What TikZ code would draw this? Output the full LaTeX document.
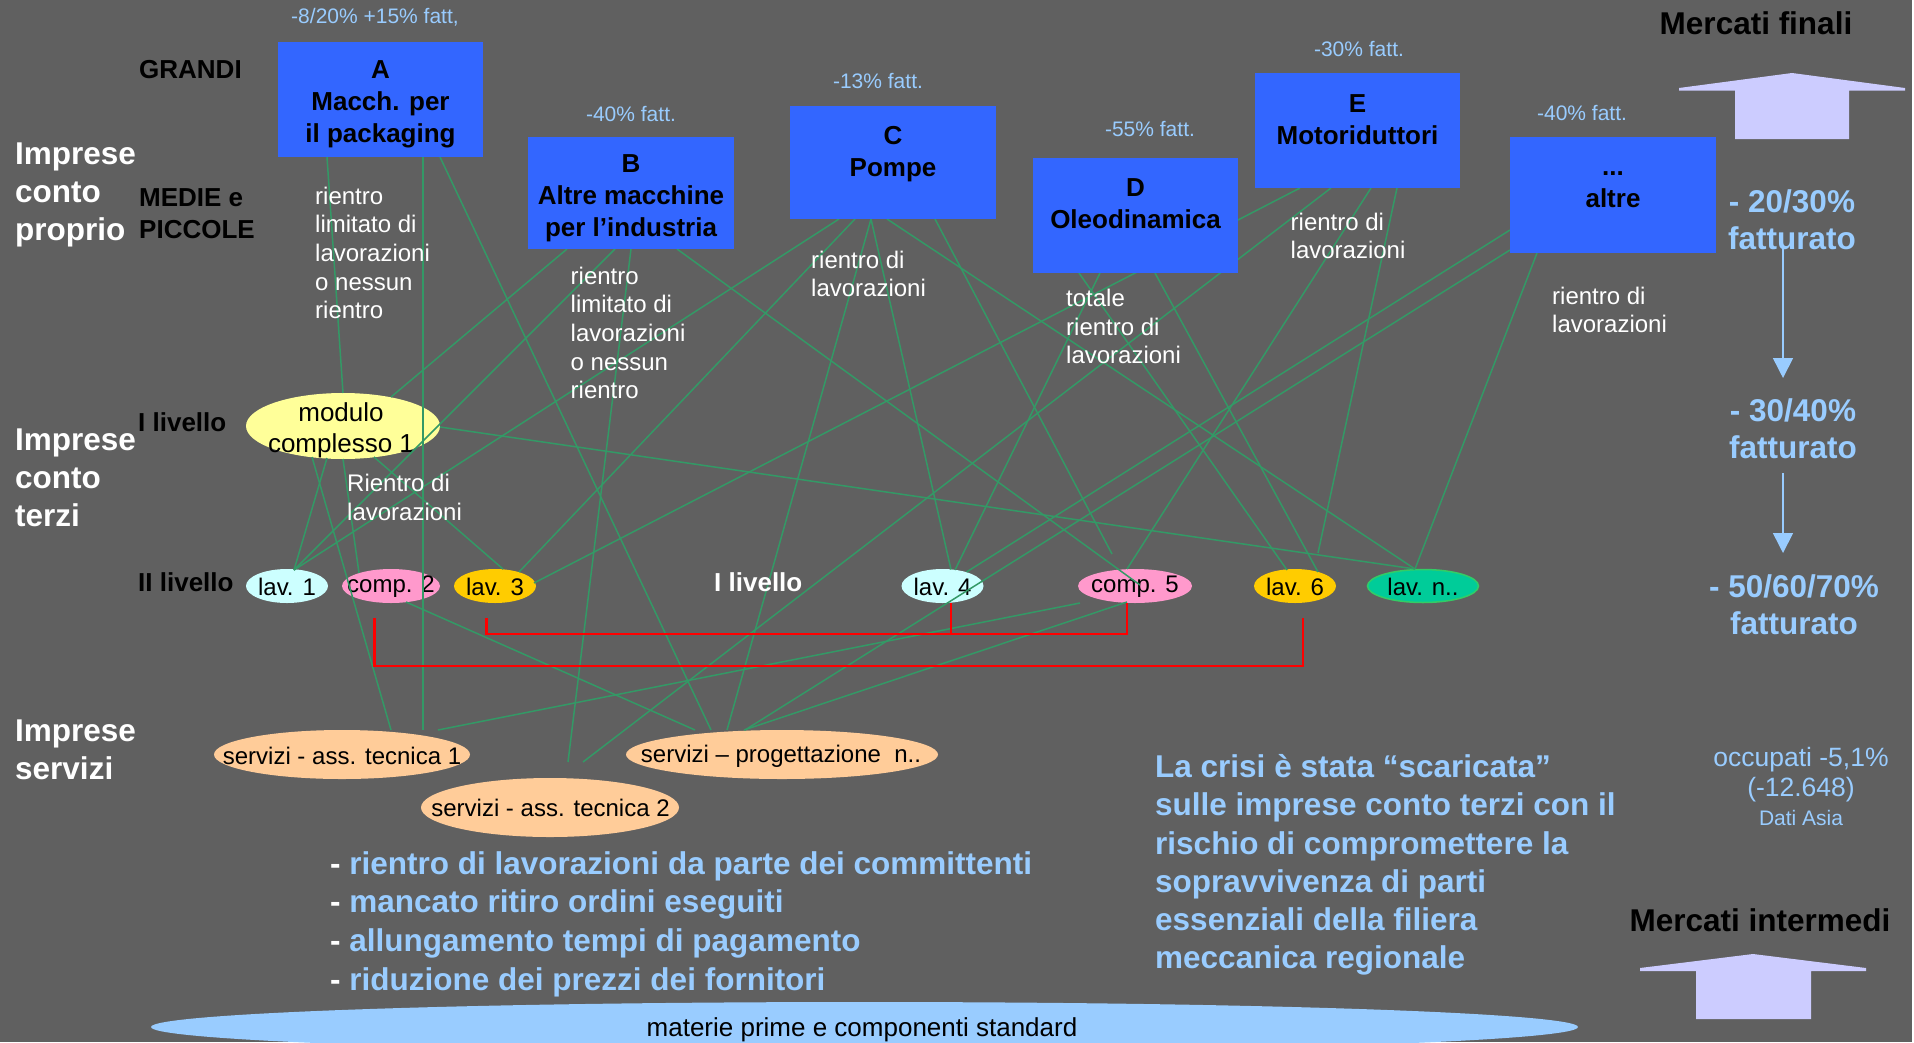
\documentclass[tikz,border=0pt]{standalone}
\usepackage{fontspec}
\setmainfont{Liberation Sans}
\usetikzlibrary{shapes.geometric,calc,arrows.meta}
\definecolor{bgc}{HTML}{606060}
\definecolor{boxblue}{HTML}{3366FF}
\definecolor{lblue}{HTML}{99CCFF}
\definecolor{lgreen}{HTML}{339966}
\definecolor{yell}{HTML}{FFFF99}
\definecolor{cyanx}{HTML}{CCFFFF}
\definecolor{pinkx}{HTML}{FF99CC}
\definecolor{goldx}{HTML}{FFCC00}
\definecolor{greenx}{HTML}{00CC99}
\definecolor{greenb}{HTML}{33CC66}
\definecolor{peach}{HTML}{FFCC99}
\definecolor{lavx}{HTML}{CCCCFF}
\definecolor{redx}{HTML}{FF0000}
\pgfdeclarelayer{back}
\pgfdeclarelayer{mid}
\pgfsetlayers{back,mid,main}
\tikzset{
  box/.style={rectangle, fill=boxblue, inner sep=0pt, outer sep=0pt},
  boxtxt/.style={font=\bfseries\fontsize{26}{32}\selectfont, align=center, text=black, inner sep=0pt},
  ell/.style={ellipse, inner sep=0pt, outer sep=0pt},
  elltxt/.style={font=\fontsize{24}{28}\selectfont, text=black, inner sep=0pt},
  pct/.style={font=\fontsize{21}{25}\selectfont, text=lblue, inner sep=0pt},
  notetxt/.style={font=\fontsize{24}{28.6}\selectfont, text=white, align=left, anchor=west, inner sep=0pt},
  hdr/.style={font=\bfseries\fontsize{31.5}{38}\selectfont, text=white, align=left, anchor=west, inner sep=0pt},
  lvl/.style={font=\bfseries\fontsize{26}{31.5}\selectfont, text=black, align=left, anchor=west, inner sep=0pt},
  mkt/.style={font=\bfseries\fontsize{31.5}{38}\selectfont, text=black, inner sep=0pt},
  bigtxt/.style={font=\bfseries\fontsize{31.5}{37}\selectfont, text=lblue, align=center, inner sep=0pt},
  occtxt/.style={font=\fontsize{26.5}{30}\selectfont, text=lblue, align=center, inner sep=0pt},
  gl/.style={draw=lgreen, line width=1.5pt},
  rl/.style={draw=redx, line width=2.2pt},
  darr/.style={draw=lblue, line width=1.6pt, -{Triangle[width=20pt,length=20pt]}},
}
\begin{document}
\begin{tikzpicture}[x=1pt,y=-1pt]
\useasboundingbox (0,0) rectangle (1914,1042);
\begin{pgfonlayer}{back}
\fill[white] (0,0) rectangle (1914,1042);
\fill[bgc] (0,0) rectangle (1912,1042);
% ellipses
\node[ell, fill=yell, minimum width=194pt, minimum height=66pt] (modulo) at (343,426) {};
\node[ell, fill=cyanx, minimum width=82pt, minimum height=34pt] (lav1) at (287,586) {};
\node[ell, fill=pinkx, minimum width=98pt, minimum height=34pt] (comp2) at (391,586) {};
\node[ell, fill=goldx, minimum width=82pt, minimum height=34pt] (lav3) at (495,586) {};
\node[ell, fill=cyanx, minimum width=82pt, minimum height=34pt] (lav4) at (942.5,586) {};
\node[ell, fill=pinkx, minimum width=114pt, minimum height=34pt] (comp5) at (1135,586) {};
\node[ell, fill=goldx, minimum width=82pt, minimum height=34pt] (lav6) at (1295,586) {};
\node[ell, fill=greenx, draw=greenb, line width=1.5pt, minimum width=111pt, minimum height=33pt] (lavn) at (1423,586) {};
\node[ell, fill=peach, minimum width=256pt, minimum height=49pt] (tec1) at (342,754.5) {};
\node[ell, fill=peach, minimum width=312pt, minimum height=49pt] (prog) at (782,754.5) {};
\node[ell, fill=peach, minimum width=258pt, minimum height=59pt] (tec2) at (550,807.5) {};
\node[ell, fill=lblue, minimum width=1427pt, minimum height=50pt] (base) at (864.5,1027) {};
% ellipse texts
\node[elltxt, font=\fontsize{26}{31}\selectfont, align=center] (modulot) at (341,430) {modulo\\complesso 1};
\node[elltxt] (lav1t) at (287,587) {lav. 1};
\node[elltxt] (comp2t) at (391,587) {comp. 2};
\node[elltxt] (lav3t) at (495,587) {lav. 3};
\node[elltxt] (lav4t) at (942.5,587) {lav. 4};
\node[elltxt] (comp5t) at (1135,587) {comp. 5};
\node[elltxt] (lav6t) at (1295,587) {lav. 6};
\node[elltxt] (lavnt) at (1423,587) {lav. n..};
\node[elltxt] (tec1t) at (342,756) {servizi - ass. tecnica 1};
\node[elltxt] (progt) at (781,756) {servizi – progettazione\ \ n..};
\node[elltxt] (tec2t) at (550.5,808) {servizi - ass. tecnica 2};
\node[elltxt, font=\fontsize{26}{30}\selectfont] (baset) at (862,1030) {materie prime e componenti standard};
\end{pgfonlayer}

% boxes
\node[box, minimum width=205pt, minimum height=115pt] (A) at (380.5,99.5) {};
\node[box, minimum width=206pt, minimum height=112pt] (B) at (631,193) {};
\node[box, minimum width=206pt, minimum height=113pt] (C) at (893,162.5) {};
\node[box, minimum width=205pt, minimum height=115pt] (D) at (1135.5,215.5) {};
\node[box, minimum width=205pt, minimum height=115pt] (E) at (1357.5,130.5) {};
\node[box, minimum width=206pt, minimum height=116pt] (F) at (1613,195) {};
\node[boxtxt] (At) at (380.5,104.5) {A\\Macch. per\\il packaging};
\node[boxtxt] (Bt) at (631,198) {B\\Altre macchine\\per l’industria};
\node[boxtxt] (Ct) at (893,154) {C\\Pompe};
\node[boxtxt] (Dt) at (1135.5,203.5) {D\\Oleodinamica};
\node[boxtxt] (Et) at (1357.5,119.5) {E\\Motoriduttori};
\node[boxtxt] (Ft) at (1613,183) {\vphantom{A}...\\altre};

% percent labels
\node[pct] (pA) at (375,17) {-8/20\% +15\% fatt,};
\node[pct] (pB) at (631,114) {-40\% fatt.};
\node[pct] (pC) at (878,81) {-13\% fatt.};
\node[pct] (pD) at (1150,129) {-55\% fatt.};
\node[pct] (pE) at (1359,49) {-30\% fatt.};
\node[pct] (pF) at (1582,113) {-40\% fatt.};

% left labels
\node[hdr] (icp) at (15,195) {Imprese\\conto\\proprio};
\node[lvl] (grandi) at (139,70) {GRANDI};
\node[lvl] (medie) at (139,213.5) {MEDIE e\\PICCOLE};
\node[hdr] (ict) at (15,478) {Imprese\\conto\\terzi};
\node[lvl] (liv1) at (138,422) {I livello};
\node[lvl] (liv2) at (138,582) {II livello};
\node[lvl, text=white] (liv1b) at (714,582) {I livello};
\node[hdr] (isv) at (15,750) {Imprese\\servizi};

% notes
\node[notetxt] (nA) at (315,253) {rientro\\limitato di\\lavorazioni\\o nessun\\rientro};
\node[notetxt] (nB) at (570.5,333) {rientro\\limitato di\\lavorazioni\\o nessun\\rientro};
\node[notetxt] (nC) at (811,274) {rientro di\\lavorazioni};
\node[notetxt] (nD) at (1066,326.5) {totale\\rientro di\\lavorazioni};
\node[notetxt] (nE) at (1290.5,236) {rientro di\\lavorazioni};
\node[notetxt] (nF) at (1552,310) {rientro di\\lavorazioni};
\node[notetxt] (nM) at (347,497.5) {Rientro di\\lavorazioni};

% right side
\node[mkt] (mf) at (1756,23) {Mercati finali};
\fill[lavx] (1679,88) -- (1792,73) -- (1905,88) -- (1905,90.5) -- (1849,90.5) -- (1849,139) -- (1735,139) -- (1735,90.5) -- (1679,90.5) -- cycle;
\node[bigtxt] (f1) at (1792,220) {- 20/30\%\\fatturato};
\node[bigtxt] (f2) at (1793,428.5) {- 30/40\%\\fatturato};
\node[bigtxt] (f3) at (1794,604.5) {- 50/60/70\%\\fatturato};
\coordinate (a1s) at (1783,247);
\coordinate (a1e) at (1783,378);
\coordinate (a2s) at (1783,473);
\coordinate (a2e) at (1783,553);
\draw[darr] (a1s) -- (a1e);
\draw[darr] (a2s) -- (a2e);
\node[occtxt] (occ) at (1801,775) {occupati -5,1\%\\(-12.648)};
\node[pct] (dati) at (1801,818) {Dati Asia};
\node[mkt] (mi) at (1760,920) {Mercati intermedi};
\fill[lavx] (1640,968) -- (1753,954) -- (1866,968) -- (1866,971) -- (1811,971) -- (1811,1019) -- (1696,1019) -- (1696,971) -- (1640,971) -- cycle;

% bottom texts
\node[bigtxt, font=\bfseries\fontsize{31.5}{38.2}\selectfont, align=left, anchor=west] (crisi) at (1155,865) {La crisi è stata “scaricata”\\sulle imprese conto terzi con il\\rischio di compromettere la\\sopravvivenza di parti\\essenziali della filiera\\meccanica regionale};
\node[bigtxt, font=\bfseries\fontsize{31.5}{38.7}\selectfont, align=left, anchor=west] (bul) at (330,924) {{\color{white}-} rientro di lavorazioni da parte dei committenti\\{\color{white}-} mancato ritiro ordini eseguiti\\{\color{white}-} allungamento tempi di pagamento\\{\color{white}-} riduzione dei prezzi dei fornitori};

\begin{pgfonlayer}{mid}
% A
\draw[gl] ($(A.south west)+(49,0)$) -- (modulo.north);
\draw[gl] ($(A.south west)+(145,0)$) -- ($(tec1.center)+(81,-24.5)$);
\draw[gl] ($(A.south west)+(162,0)$) -- ($(prog.center)+(-71,-24.5)$);
% B
\draw[gl] ($(B.south west)+(39,0)$) -- ($(modulo.center)+(48,-29)$);
\draw[gl] ($(B.south west)+(87,0)$) -- ($(lav1.center)+(7,-16)$);
\draw[gl] ($(B.south west)+(103,0)$) -- ($(tec2.center)+(18,-45.5)$);
\draw[gl] ($(B.south west)+(149,0)$) -- ($(comp5.center)+(5,-1)$);
% C
\draw[gl] ($(C.south west)+(49,0)$) -- ($(lav1.center)+(7,-16)$);
\draw[gl] ($(C.south west)+(65,0)$) -- ($(lav3.center)+(24,-14)$);
\draw[gl] ($(C.south west)+(81,0)$) -- ($(lav4.center)+(8.5,-16.5)$);
\draw[gl] ($(C.south west)+(81,0)$) -- ($(prog.center)+(-55,-24.5)$);
\draw[gl] ($(C.south west)+(97,0)$) -- ($(lavn.center)+(-8,-17)$);
\draw[gl] ($(C.south west)+(145,0)$) -- ($(comp5.center)+(-23,-32)$);
% D
\draw[gl] ($(D.south west)+(46,0)$) -- ($(lav6.center)+(-8,-16)$);
\draw[gl] ($(D.south west)+(67,0)$) -- ($(lav4.center)+(12.5,-16)$);
\draw[gl] ($(D.south west)+(122,0)$) -- ($(lav6.center)+(23,-14)$);
% E (behind D)
\draw[gl] ($(E.south west)+(45,0)$) -- ($(lav3.center)+(39,-3)$);
\draw[gl] ($(E.south west)+(76,0)$) -- ($(tec2.center)+(33,-45.5)$);
\draw[gl] ($(E.south west)+(116,0)$) -- ($(comp5.center)+(-8,-17)$);
\draw[gl] ($(E.south west)+(142,0)$) -- ($(lav6.center)+(23,-33)$);
% altre
\draw[gl] ($(F.south west)+(0,-23)$) -- ($(lav4.center)+(24,-14)$);
\draw[gl] ($(F.south west)+(0,-3)$) -- ($(prog.center)+(-37,-24.5)$);
\draw[gl] ($(F.south west)+(27,0)$) -- ($(lavn.center)+(-8,-17)$);
% modulo
\draw[gl] ($(modulo.center)+(-16,32)$) -- ($(lav1.center)+(7,-16)$);
\draw[gl] ($(modulo.center)+(-31,31)$) -- ($(tec1.center)+(49,-24.5)$);
\draw[gl] (modulo.south) -- ($(comp2.center)+(-32,-13)$);
\draw[gl] ($(modulo.center)+(31,31)$) -- ($(lav3.center)+(8,-17)$);
\draw[gl] ($(modulo.center)+(97,1)$) -- ($(lavn.center)+(-8,-17)$);
% comp2, comp5
\draw[gl] ($(comp2.center)+(15,16)$) -- ($(prog.center)+(-87,-24.5)$);
\draw[gl] ($(comp5.center)+(-55,17)$) -- ($(tec1.center)+(96,-24.5)$);
\draw[gl] ($(comp5.center)+(-8,16)$) -- ($(prog.center)+(-38,-24.5)$);
% red brackets
\draw[rl] ($(comp2.south)+(-16.5,15)$) -- ++(0,48) -| ($(lav6.south)+(8,15)$);
\draw[rl] ($(lav3.south)+(-8.5,15)$) -- ++(0,16) -| ($(comp5.south)+(-8,0)$);
\draw[rl] ($(lav4.south)+(8.5,0)$) -- ++(0,31);
\end{pgfonlayer}
\end{tikzpicture}
\end{document}
